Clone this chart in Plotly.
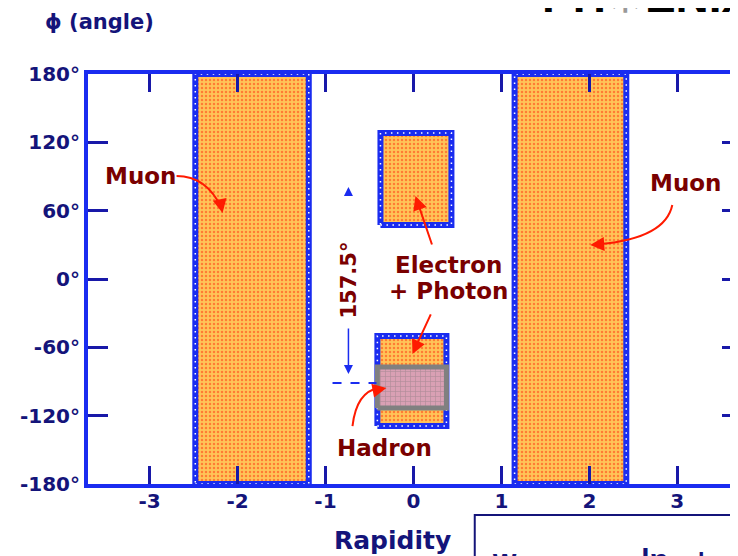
import plotly.graph_objects as go

# ---- data: PHENIX detector acceptance (rapidity vs azimuth) ----
det_names = ["Muon South", "Muon North", "Central West", "Central East"]
eta_min = [-2.48, 1.15, -0.375, -0.41]
eta_max = [-1.19, 2.42, 0.432, 0.375]
phi_min = [-180, -180, 47.4, -129.1]
phi_max = [180, 180, 128.2, -50.0]

hadron_eta = [-0.41, 0.375]
hadron_phi = [-113.3, -77.3]

x_ticks = [-3, -2, -1, 0, 1, 2, 3]
y_ticks = [180, 120, 60, 0, -60, -120, -180]
y_ticktext = ["180°", "120°", "60°", "0°", "-60°", "-120°", "-180°"]

NAVY = "#14147a"
BLUE = "#1a2cf0"
DRED = "#7a0000"
RED = "#ff1a00"
FONT = "DejaVu Sans"

fig = go.Figure()

def rect(e0, e1, p0, p1):
    return [e0, e1, e1, e0, e0], [p0, p0, p1, p1, p0]

for i, n in enumerate(det_names):
    xs, ys = rect(eta_min[i], eta_max[i], phi_min[i], phi_max[i])
    fig.add_trace(go.Scatter(
        x=xs, y=ys, mode="lines", fill="toself", name=n,
        line=dict(color=BLUE, width=6),
        fillpattern=dict(shape=".", bgcolor="#ffc458", fgcolor="#ff3410",
                         size=4, solidity=0.3),
        hoverinfo="name", showlegend=False))
    fig.add_trace(go.Scatter(
        x=xs, y=ys, mode="lines",
        line=dict(color="white", width=1.5, dash="1.5px,4.5px"),
        hoverinfo="skip", showlegend=False))

hx, hy = rect(hadron_eta[0], hadron_eta[1], hadron_phi[0], hadron_phi[1])
fig.add_trace(go.Scatter(
    x=hx, y=hy, mode="lines", fill="toself", name="Hadron",
    line=dict(color="#808080", width=5),
    fillpattern=dict(shape="+", bgcolor="#d9a0b4", fgcolor="#8a7a80",
                     size=5, solidity=0.25),
    hoverinfo="name", showlegend=False))

# right-side mirror ticks (no line)
fig.add_trace(go.Scatter(x=[None], y=[None], yaxis="y2", showlegend=False))

tickf = dict(family=FONT, size=20, color=NAVY, weight="bold")

fig.update_layout(
    width=730, height=548,
    margin=dict(l=80, r=0, t=66, b=72),
    plot_bgcolor="white", paper_bgcolor="white",
    showlegend=False,
    xaxis=dict(range=[-3.70, 3.69], tickvals=x_ticks,
               ticktext=[str(v) for v in x_ticks],
               ticks="inside", ticklen=18, tickwidth=3, tickcolor="#1818a8",
               showline=True, linecolor=BLUE, linewidth=4, mirror="ticks",
               showgrid=False, zeroline=False, tickfont=tickf,
               ticklabelstandoff=-4),
    yaxis=dict(range=[-180, 180], tickvals=y_ticks, ticktext=y_ticktext,
               ticks="inside", ticklen=20, tickwidth=3, tickcolor="#1818a8",
               showline=True, linecolor=BLUE, linewidth=4,
               showgrid=False, zeroline=False, tickfont=tickf),
    yaxis2=dict(range=[-180, 180], overlaying="y", side="right",
                tickvals=y_ticks, showticklabels=False, ticks="inside",
                ticklen=16, tickwidth=3, tickcolor="#1818a8",
                showline=False, showgrid=False, zeroline=False),
)

lab = dict(family=FONT, size=23, color=DRED, weight="bold")
ann = [
    dict(x=-3.10, y=90.4, text="Muon", font=lab),
    dict(x=3.09, y=84.3, text="Muon", font=lab),
    dict(x=0.40, y=12.3, text="Electron", font=lab),
    dict(x=0.40, y=-10.5, text="+ Photon", font=lab),
    dict(x=-0.33, y=-148.4, text="Hadron", font=lab),
    dict(x=-0.727, y=-0.9, text="157.5°", textangle=-90,
         font=dict(family=FONT, size=21, color=DRED, weight="bold")),
]
for a in ann:
    a.update(xref="x", yref="y", showarrow=False, xanchor="center",
             yanchor="middle")
    fig.add_annotation(**a)

# red arrowheads / straight arrows
arrows = [
    dict(x=-2.17, y=57.9, ax=-3, ay=-14),
    dict(x=2.01, y=29.9, ax=14, ay=-1),
    dict(x=0.023, y=72.9, ax=17, ay=50),
    dict(x=-0.011, y=-65.8, ax=19, ay=-41),
    dict(x=-0.307, y=-95.7, ax=-10, ay=2),
]
for a in arrows:
    fig.add_annotation(xref="x", yref="y", text="", showarrow=True,
                       arrowhead=2, arrowsize=1.4, arrowwidth=2,
                       arrowcolor=RED, **a)

# curved arrow shafts
curves = [
    "M -2.693,90.4 Q -2.352,90.4 -2.182,62.3",
    "M 2.943,65.0 Q 2.864,36.0 2.125,30.7",
    "M -0.693,-129.1 Q -0.648,-99.2 -0.398,-95.7",
]
for c in curves:
    fig.add_shape(type="path", path=c, xref="x", yref="y",
                  line=dict(color=RED, width=2))

# blue dimension markers
fig.add_annotation(x=-0.739, y=80.8, ax=0, ay=9, xref="x", yref="y", text="",
                   showarrow=True, arrowhead=2, arrowsize=1.2, arrowwidth=1.5,
                   arrowcolor=BLUE)
fig.add_annotation(x=-0.739, y=-83.4, ax=0, ay=-47, xref="x", yref="y", text="",
                   showarrow=True, arrowhead=2, arrowsize=1.2, arrowwidth=1.5,
                   arrowcolor=BLUE)
fig.add_shape(type="line", x0=-0.92, x1=-0.42, y0=-91.3, y1=-91.3,
              xref="x", yref="y", line=dict(color=BLUE, width=2, dash="dash"))

# titles
fig.add_annotation(xref="paper", yref="paper", x=0.018, y=1.127,
                   xanchor="center", yanchor="middle",
                   text="ϕ (angle)", showarrow=False,
                   font=dict(family=FONT, size=21, color=NAVY, weight="bold"))
fig.add_annotation(xref="paper", yref="paper", x=0.469, y=-0.137,
                   xanchor="center", yanchor="middle",
                   text="Rapidity", showarrow=False,
                   font=dict(family=FONT, size=25, color=NAVY, weight="bold"))

# PHENIX logo (cut off at top, as in the original slide)
fig.add_annotation(xref="paper", yref="paper", x=0.695, y=1.122,
                   xanchor="left", yanchor="bottom",
                   text="PH<span style='color:#999999'>✳</span>ENIX",
                   showarrow=False,
                   font=dict(family="Liberation Sans", size=46,
                             color="black", weight="bold"))

# bottom-right text box (cut off)
fig.add_shape(type="rect", xref="paper", yref="paper",
              x0=0.595, x1=1.02, y0=-0.0756, y1=-0.25,
              line=dict(color=NAVY, width=2), fillcolor="white")
fig.add_annotation(xref="paper", yref="paper", x=0.618, y=-0.139,
                   xanchor="left", yanchor="top",
                   text="w" + " " * 15 + "lη" + " " * 3 + "±", showarrow=False,
                   font=dict(family="Liberation Sans", size=30,
                             color=NAVY, weight="bold"))

fig.write_html("out.html")
